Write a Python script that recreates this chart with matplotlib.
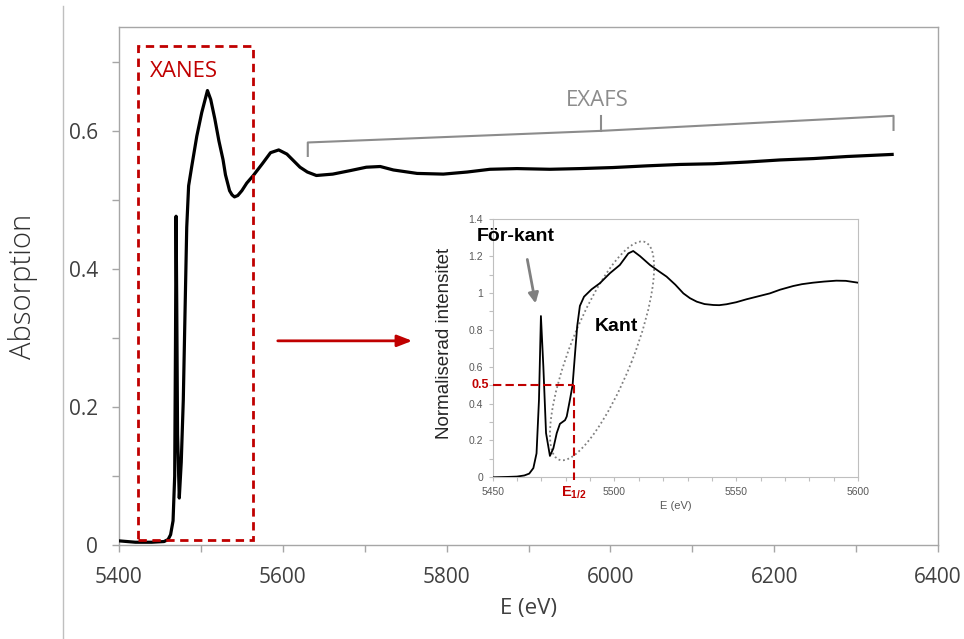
import matplotlib.pyplot as plt
from matplotlib.patches import Rectangle, Ellipse
from matplotlib.lines import Line2D
from matplotlib.ticker import MultipleLocator, FuncFormatter
import matplotlib.transforms as mtransforms

plt.rcParams['mathtext.fontset'] = 'custom'
plt.rcParams['mathtext.rm'] = 'Liberation Sans'
plt.rcParams['mathtext.bf'] = 'Liberation Sans:bold'

# main spectrum (E in eV, absorption)
energy = [5400, 5420, 5440, 5455, 5460, 5463, 5466, 5468, 5469, 5469.7, 5470.5,
          5471.5, 5473.6, 5476, 5478.5, 5480.5, 5482.7, 5485, 5488.8, 5495,
          5501, 5508, 5512, 5517, 5522, 5527, 5530, 5535, 5538, 5541, 5545,
          5550, 5556, 5564, 5575, 5585, 5595, 5605, 5621, 5630, 5641, 5661,
          5682, 5702, 5719, 5735, 5764, 5796, 5825, 5853, 5886, 5926, 5963,
          6003, 6045, 6085, 6126, 6167, 6207, 6248, 6289, 6344]
absorption = [0.006, 0.004, 0.004, 0.005, 0.008, 0.015, 0.035, 0.10, 0.30, 0.476,
              0.35, 0.16, 0.068, 0.12, 0.21, 0.33, 0.46, 0.52, 0.548, 0.592,
              0.626, 0.658, 0.645, 0.617, 0.585, 0.558, 0.536, 0.513, 0.507,
              0.504, 0.506, 0.513, 0.524, 0.535, 0.552, 0.568, 0.572, 0.566,
              0.547, 0.540, 0.535, 0.537, 0.542, 0.547, 0.548, 0.543, 0.538,
              0.537, 0.540, 0.544, 0.545, 0.544, 0.545, 0.5465, 0.549, 0.551,
              0.552, 0.5545, 0.5575, 0.5595, 0.5625, 0.5655]

# inset: normalised XANES
inset_e = [5450, 5456, 5460, 5463, 5465, 5466.7, 5468, 5469, 5469.8, 5470.8,
           5471.9, 5473.5, 5474.9, 5476.3, 5477.6, 5479.7, 5480.4, 5481.7,
           5482.8, 5483.8, 5484.7, 5485.8, 5487.5, 5490.6, 5494, 5498.1,
           5502.2, 5505.7, 5507.7, 5510.5, 5514.6, 5518, 5521.4, 5525, 5528.3,
           5531, 5533.8, 5537, 5540.6, 5543, 5546, 5550, 5554.2, 5559, 5563.8,
           5568, 5573.4, 5577, 5581.5, 5586, 5591.1, 5595, 5600]
inset_i = [0, 0.002, 0.004, 0.01, 0.02, 0.05, 0.13, 0.42, 0.875, 0.6, 0.24,
           0.116, 0.157, 0.24, 0.29, 0.31, 0.33, 0.42, 0.5, 0.67, 0.82, 0.93,
           0.98, 1.02, 1.053, 1.107, 1.152, 1.215, 1.228, 1.2, 1.152, 1.12,
           1.089, 1.045, 0.998, 0.972, 0.953, 0.94, 0.935, 0.934, 0.939, 0.95,
           0.966, 0.982, 0.998, 1.018, 1.038, 1.048, 1.056, 1.062, 1.067,
           1.066, 1.056]

e_half = 5483.4
xanes_range = (5423.6, 5564)
exafs_range = (5630.5, 6345.7)

main_ticks_x = [5400, 5600, 5800, 6000, 6200, 6400]
main_ticks_y = [0, 0.2, 0.4, 0.6]
inset_ticks_x = [5450, 5500, 5550, 5600]
inset_ticks_y = [0, 0.2, 0.4, 0.6, 0.8, 1.0, 1.2, 1.4]

RED = '#c00000'
SPINE = '#a6a6a6'
TXT = '#404040'


def fmt(v, pos=None):
    return '%g' % v


def main():
    fig = plt.figure(figsize=(9.64, 6.39), dpi=100)

    # slide divider line on the left
    fig.add_artist(Line2D([63 / 964, 63 / 964], [0, 1 - 6 / 639],
                          color='#bfbfbf', lw=1.0, transform=fig.transFigure))

    ax = fig.add_axes([119 / 964, 1 - 545 / 639, 819 / 964, 518 / 639])
    ax.plot(energy, absorption, color='black', lw=2.3, zorder=3)
    ax.set_xlim(5400, 6400)
    ax.set_ylim(0, 0.75)
    ax.set_xticks(main_ticks_x)
    ax.set_yticks(main_ticks_y)
    ax.xaxis.set_minor_locator(MultipleLocator(100))
    ax.yaxis.set_minor_locator(MultipleLocator(0.1))
    ax.xaxis.set_major_formatter(FuncFormatter(fmt))
    ax.yaxis.set_major_formatter(FuncFormatter(fmt))
    for s in ax.spines.values():
        s.set_color(SPINE)
        s.set_linewidth(1.0)
    ax.tick_params(which='both', direction='out', length=5, color=SPINE, width=1.0)
    ax.tick_params(axis='x', which='major', pad=11, labelsize=15, labelcolor=TXT)
    ax.tick_params(axis='y', which='major', pad=10, labelsize=15, labelcolor=TXT)
    for lab in ax.get_xticklabels() + ax.get_yticklabels():
        lab.set_family('Open Sans')
    ax.set_xlabel('E (eV)', fontsize=16, family='Open Sans', color=TXT)
    ax.set_ylabel('Absorption', fontsize=21, family='Open Sans', color='#303030',
                  fontweight='light')
    ax.xaxis.set_label_coords(0.5, -0.102)
    ax.yaxis.set_label_coords(-0.099, 0.5)

    # XANES box
    ax.add_patch(Rectangle((xanes_range[0], 0.007), xanes_range[1] - xanes_range[0],
                           0.716, fill=False, edgecolor=RED, lw=2.0,
                           linestyle=(0, (3, 2)), zorder=4))
    ax.text(5437.9, 0.677, 'XANES', color=RED, fontsize=16, family='Open Sans',
            va='baseline', ha='left')

    # EXAFS bracket
    x0, x1 = exafs_range
    xm = 5988.3
    ax.plot([x0, x0, xm, x1, x1], [0.5633, 0.5828, 0.5996, 0.6214, 0.601],
            color='#8c8c8c', lw=1.5, solid_joinstyle='round')
    ax.plot([xm, xm], [0.5996, 0.6205], color='#8c8c8c', lw=1.5)
    ax.text(5984, 0.636, 'EXAFS', color='#8c8c8c', fontsize=16, family='Open Sans',
            ha='center', va='baseline')

    # red arrow to the inset
    ax.annotate('', xy=(5761.5, 0.2956), xytext=(5590.5, 0.2956),
                arrowprops=dict(arrowstyle='-|>,head_length=0.9,head_width=0.35',
                                color=RED, lw=2.0))

    # inset
    axin = fig.add_axes([492.7 / 964, 1 - 477.3 / 639, 365.3 / 964, 258 / 639])
    axin.plot(inset_e, inset_i, color='black', lw=1.3, zorder=3)
    axin.set_xlim(5450, 5600)
    axin.set_ylim(0, 1.4)
    axin.set_xticks(inset_ticks_x)
    axin.set_yticks(inset_ticks_y)
    axin.xaxis.set_minor_locator(MultipleLocator(10))
    axin.yaxis.set_minor_locator(MultipleLocator(0.1))
    axin.xaxis.set_major_formatter(FuncFormatter(fmt))
    axin.yaxis.set_major_formatter(FuncFormatter(fmt))
    for s in axin.spines.values():
        s.set_color('#bfbfbf')
        s.set_linewidth(0.8)
    axin.tick_params(which='both', direction='out', length=3, color='#bfbfbf',
                     width=0.8, labelsize=7.5, labelcolor='#595959', pad=4)
    for lab in axin.get_xticklabels() + axin.get_yticklabels():
        lab.set_family('Liberation Sans')
    axin.set_xlabel('E (eV)', fontsize=8, family='Liberation Sans', color='#595959',
                    labelpad=3)
    axin.set_ylabel('Normaliserad intensitet', fontsize=13.5,
                    family='Liberation Sans', color='#262626')
    axin.yaxis.set_label_coords(-0.11, 0.52)

    # E1/2 construction
    axin.plot([5450, e_half], [0.5, 0.5], color=RED, lw=1.5,
              linestyle=(0, (4, 2)), zorder=4)
    axin.plot([e_half, e_half], [0.5, -0.015], color=RED, lw=1.5,
              linestyle=(0, (4, 2)), zorder=4, clip_on=False)
    axin.text(5448.6, 0.5, '0.5', color=RED, fontsize=9, fontweight='bold',
              family='Liberation Sans', ha='right', va='center')
    axin.text(e_half, -0.04, r'$\mathbf{E_{1/2}}$', color=RED, fontsize=10.5,
              ha='center', va='top')

    # labels and arrow
    axin.text(5459.6, 1.305, 'För-kant', fontsize=14, fontweight='bold',
              family='Liberation Sans', ha='center', va='center')
    axin.text(5501, 0.816, 'Kant', fontsize=14, fontweight='bold',
              family='Liberation Sans', ha='center', va='center')
    axin.annotate('', xy=(5467.8, 0.929), xytext=(5464, 1.197),
                  arrowprops=dict(arrowstyle='-|>,head_length=0.6,head_width=0.3',
                                  color='#808080', lw=2.0))

    # dotted ellipse around the edge
    tr = fig.dpi_scale_trans + mtransforms.ScaledTranslation(5494.9, 0.686,
                                                             axin.transData)
    axin.add_patch(Ellipse((0, 0), 2.34, 0.63, angle=68.4, fill=False,
                           edgecolor='#808080', lw=1.3, linestyle=(0, (1, 1.5)),
                           transform=tr, clip_on=False))

    fig.savefig('out.png', dpi=100)


if __name__ == '__main__':
    main()
